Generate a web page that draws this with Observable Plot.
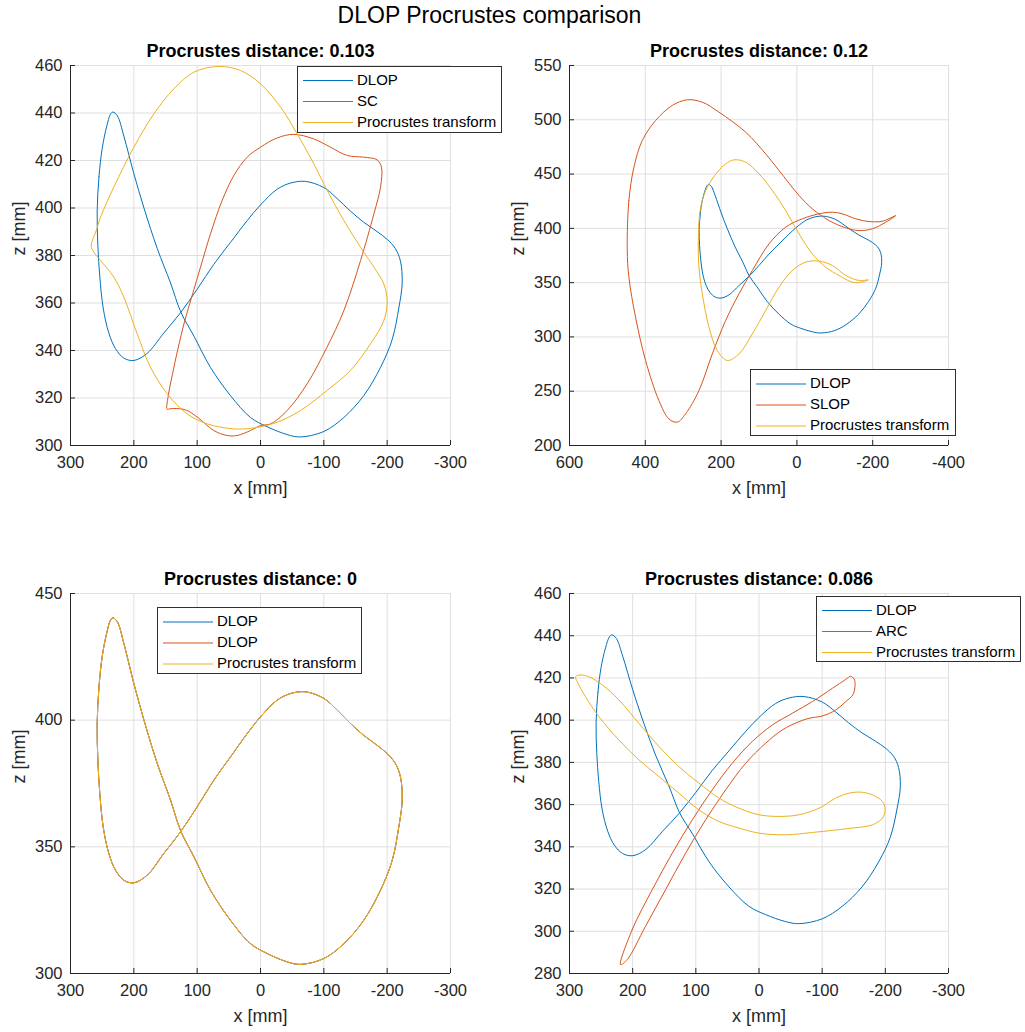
<!DOCTYPE html>
<html>
<head>
<meta charset="utf-8">
<script src="https://cdn.jsdelivr.net/npm/d3@7"></script>
<script src="https://cdn.jsdelivr.net/npm/@observablehq/plot@0.6"></script>
<style>
  body { margin: 0; background: #fff; }
  #fig { position: relative; width: 1025px; height: 1032px; overflow: hidden;
         font-family: "Liberation Sans", Arial, Helvetica, sans-serif; }
  #fig svg.panel { position: absolute; left: 0; top: 0; }
  .suptitle { position: absolute; left: 0; top: 2px; width: 979px; text-align: center;
              font-size: 23px; line-height: 26px; color: #000; }
  .legend { position: absolute; background: #fff; border: 1px solid #303030; box-sizing: border-box; }
  .legend .row { position: absolute; left: 0; right: 0; height: 20px; }
  .legend .row svg { position: absolute; left: 5px; top: 0; }
  .legend .row span { position: absolute; left: 59px; top: 0; line-height: 20px; font-size: 15px;
                      color: #000; white-space: nowrap; }
</style>
</head>
<body>
<div id="fig"><div class="suptitle">DLOP Procrustes comparison</div></div>
<script>
// ---- trajectories in the x–z plane, [x mm, z mm] ----
const dlop = [
  [257.9,398.7],[255,413.2],[250,425],[243,434.2],[236.8,439.5],[233,440.4],[226,438.8],[215.8,430.3],
  [200,414.5],[184,400],[163,382.9],[142,368.4],[126,356.3],[105,346],[79,332.9],[47.4,321],
  [15.8,311.8],[-10.5,307.9],[-42,304.6],[-63,303.6],[-100,305.9],[-131.6,311.8],[-163,321],
  [-189.5,332.9],[-208,344.7],[-218.4,357.9],[-223.7,368.4],[-221,377.6],[-213,382.9],[-200,386.8],
  [-184,390.1],[-163,394],[-142,398.7],[-121,404],[-100,408.6],[-71,411.2],[-47.4,410.5],[-26.3,407.9],
  [0,401.3],[21,394.7],[47.4,385.5],[73.7,376.3],[100,365.8],[126.3,355.9],[152.6,347.4],[179,338.8],
  [200,335.8],[215.8,336.8],[229,340.8],[239.5,347.4],[248.4,357.9],[253.7,371],[256.8,384.2]
];
const sc = [
  [147.5,315.2],[145,322],[139,330],[131,340],[119.5,352.6],[107,364],[94.7,375.1],[79,389.1],
  [60.5,403.2],[42,413.7],[21,421.4],[0,425.6],[-26.3,429.5],[-52.6,431],[-84,429.1],[-110.5,425.6],
  [-137,422.1],[-163,421.4],[-184,420.3],[-191,417.2],[-189.5,408.8],[-179,397.5],[-158,377.9],
  [-131.6,356.8],[-105,341.4],[-73.7,326],[-42,314.7],[-15.8,309.1],[0,308.4],[15.8,306.3],[37,304.2],
  [52.6,304.2],[73.7,306.3],[100,312],[118.4,315],[137,315.6],[144,315.4]
];
const scFit = [
  [267.4,384.2],[260,390],[252.6,396.1],[231.6,408.8],[200,425.6],[168.4,439.6],[136.8,450.2],
  [105,457.2],[65.8,459.6],[31.6,457.9],[0,452.3],[-31.6,442.5],[-57.9,431.2],[-84.2,418.6],
  [-105.3,407.4],[-131.6,394.7],[-157.9,383.5],[-179,375.1],[-194.7,368],[-200,360.4],[-194.7,352.6],
  [-173.7,342.8],[-142,331.6],[-105.3,323.2],[-63,314.7],[-26.3,309.8],[10.5,307.4],[42,307],
  [84,309.1],[115.8,313.3],[147.4,321.8],[173.7,333],[194.7,347],[215.8,362.5],[231.6,370.9],
  [252.6,377.9],[263,381.4]
];
const slop = [
  [447.7,381],[443.3,425.6],[430,456.4],[408,480.9],[372.9,499.3],[328.9,513.2],[289.3,518.4],
  [249.6,516.2],[205.6,507],[135.2,488.6],[82.4,468.6],[47.2,453.3],[-5.6,430.3],[-40.8,418],
  [-84.9,407.2],[-128.9,400.5],[-164,398],[-199.3,399.6],[-234.5,405.7],[-261,411.8],[-225.7,406.6],
  [-190.5,406.3],[-155.3,408.8],[-120,413.4],[-93.7,414.9],[-58.5,413.4],[-14.4,408.8],[29.6,401.1],
  [73.6,385.7],[117.6,361.2],[152.8,339.7],[188,315.1],[223.2,284.4],[258.5,250.6],[293.7,229.2],
  [315.7,221.5],[337.7,224.5],[364.1,241.4],[399.3,278.3],[425.7,318.2],[443.3,355]
];
const slopFit = [
  [260.2,388.8],[254,419.5],[236.4,437.9],[210,451.7],[188,459.4],[166,463.1],[135.2,461],[100,450.2],
  [64.8,434.9],[29.6,416.4],[-5.6,395],[-40.8,376.5],[-76,364.2],[-111.3,356.6],[-146.5,350.4],
  [-168.5,350.4],[-188.7,352.6],[-164,352],[-128.9,356.6],[-93.7,365.8],[-58.5,369.8],[-23.2,368.9],
  [12,361.2],[47.2,345.8],[82.4,324.3],[117.6,302.8],[152.8,284.4],[183.6,278.3],[210,287.5],
  [232,309],[249.6,339.7],[258.5,364.2]
];
const arc = [
  [219.2,284.2],[200.7,300.8],[169,319.7],[137.3,337],[105.6,352.8],[74,367],[42.3,379.6],[10.6,389.9],
  [-21.1,397.7],[-52.8,403.3],[-84.5,408.8],[-116.2,415.1],[-137.3,419.3],[-145.3,420.8],[-150.5,419.5],
  [-152.1,416.5],[-148.5,412],[-137.3,408.8],[-121.5,404.8],[-100.4,402],[-79.2,400.9],[-63.4,399.3],
  [-37,395.4],[-10.6,389.1],[21.1,379.6],[52.8,367],[84.5,352.8],[116.2,337],[147.9,319.7],
  [179.6,302.4],[208.6,286.6]
];
const arcFit = [
  [290.5,420.6],[282.6,421.4],[269.4,420.6],[248.2,416.7],[221.8,409.6],[190.1,398.5],[158.4,387.5],
  [126.8,378],[95.1,370.2],[63.4,363.1],[31.7,358.3],[0,355.2],[-31.7,354.4],[-63.4,355.2],[-95.1,358.3],
  [-121.5,363.1],[-142.6,365.4],[-161,365.9],[-179.6,364.6],[-195.5,361.5],[-199.7,357.5],[-195.5,353.6],
  [-179.6,350.4],[-147.9,348.9],[-116.2,347.8],[-84.5,346.8],[-42.3,345.7],[0,346.5],[31.7,348.9],
  [63.4,352],[95.1,357.5],[126.8,365.4],[158.4,373.3],[190.1,381.2],[221.8,390.6],[253.5,401.7],
  [274.6,411.1],[287.8,418.2]
];

// ---- axis ticks ----
const xTicksA = [300, 200, 100, 0, -100, -200, -300];
const xTicksB = [600, 400, 200, 0, -200, -400];
const zTicksTL = [300, 320, 340, 360, 380, 400, 420, 440, 460];
const zTicksTR = [200, 250, 300, 350, 400, 450, 500, 550];
const zTicksBL = [300, 350, 400, 450];
const zTicksBR = [280, 300, 320, 340, 360, 380, 400, 420, 440, 460];

// ---- panel titles and legend labels ----
const distances = ["0.103", "0.12", "0", "0.086"];
const labelsTL = ["DLOP", "SC", "Procrustes transform"];
const labelsTR = ["DLOP", "SLOP", "Procrustes transform"];
const labelsBL = ["DLOP", "DLOP", "Procrustes transform"];
const labelsBR = ["DLOP", "ARC", "Procrustes transform"];

const COLORS = ["#0072BD", "#D95319", "#EDB120"];
const GRID = "#dfdfdf";
const AXIS = "#262626";
const FONT = '"Liberation Sans", Arial, Helvetica, sans-serif';
const W = 1025, H = 1032;
const fig = document.getElementById("fig");

function panel({frame, xTicks, zTicks, curves, distance, labels, legendBox, swatchY}) {
  const [left, top, right, bottom] = frame;
  const xDomain = [xTicks[0], xTicks[xTicks.length - 1]];
  const zDomain = [zTicks[0], zTicks[zTicks.length - 1]];
  const fw = right - left, fh = bottom - top;
  const svg = Plot.plot({
    width: W, height: H,
    marginLeft: left, marginRight: W - right, marginTop: top, marginBottom: H - bottom,
    style: {fontFamily: FONT, fontSize: "16.5px", color: AXIS, background: "transparent", overflow: "visible"},
    x: {domain: xDomain},
    y: {domain: zDomain},
    marks: [
      Plot.gridX(xTicks, {stroke: GRID, strokeOpacity: 1}),
      Plot.gridY(zTicks, {stroke: GRID, strokeOpacity: 1}),
      Plot.frame({stroke: GRID}),
      ...curves.map((c, i) => Plot.line(c, {
        x: d => d[0], y: d => d[1], stroke: COLORS[i], strokeWidth: 1, curve: "catmull-rom-closed"
      })),
      Plot.ruleX([xDomain[0]], {stroke: AXIS}),
      Plot.ruleY([zDomain[0]], {stroke: AXIS}),
      Plot.tickX(xTicks, {x: d => d, stroke: AXIS, insetTop: fh - 5}),
      Plot.tickY(zTicks, {y: d => d, stroke: AXIS, insetRight: fw - 5}),
      Plot.axisX(xTicks, {tickSize: 0, tickPadding: 11, label: null, tickFormat: d => String(d)}),
      Plot.axisY(zTicks, {tickSize: 0, tickPadding: 8, label: null, tickFormat: d => String(d)}),
      Plot.text([`Procrustes distance: ${distance}`], {
        text: d => d, frameAnchor: "top", lineAnchor: "bottom", dy: -9,
        fontWeight: "bold", fontSize: 18, fill: "#000"
      }),
      Plot.text(["x [mm]"], {text: d => d, frameAnchor: "bottom", lineAnchor: "bottom", dy: 48, fontSize: 18, fill: AXIS}),
      Plot.text(["z [mm]"], {text: d => d, frameAnchor: "left", lineAnchor: "bottom", rotate: -90, dx: -46, fontSize: 18, fill: AXIS})
    ]
  });
  svg.classList.add("panel");
  fig.appendChild(svg);

  // legend box
  const [lx, ly, lw, lh] = legendBox;
  const lg = document.createElement("div");
  lg.className = "legend";
  Object.assign(lg.style, {left: lx + "px", top: ly + "px", width: lw + "px", height: lh + "px"});
  const rowCenters = [13, 34, 55];
  labels.forEach((lab, i) => {
    const row = document.createElement("div");
    row.className = "row";
    row.style.top = (rowCenters[i] - 10) + "px";
    row.innerHTML = `<svg width="50" height="20"><line x1="0" x2="50" y1="${swatchY}" y2="${swatchY}" stroke="${COLORS[i]}" stroke-width="1.1"/></svg><span>${lab}</span>`;
    lg.appendChild(row);
  });
  fig.appendChild(lg);
}

panel({frame: [70, 65, 450, 445], xTicks: xTicksA, zTicks: zTicksTL, swatchY: 10.5,
       curves: [dlop, sc, scFit], distance: distances[0], labels: labelsTL, legendBox: [297, 66, 205, 67]});
panel({frame: [569, 65, 948, 445], xTicks: xTicksB, zTicks: zTicksTR, swatchY: 11,
       curves: [dlop, slop, slopFit], distance: distances[1], labels: labelsTR, legendBox: [750, 369, 206, 67]});
panel({frame: [70, 593, 450, 973], xTicks: xTicksA, zTicks: zTicksBL, swatchY: 11,
       curves: [dlop, dlop, dlop], distance: distances[2], labels: labelsBL, legendBox: [157, 607, 205, 67]});
panel({frame: [569, 593, 948, 973], xTicks: xTicksA, zTicks: zTicksBR, swatchY: 10.5,
       curves: [dlop, arc, arcFit], distance: distances[3], labels: labelsBR, legendBox: [816, 596, 205, 66]});
</script>
</body>
</html>
